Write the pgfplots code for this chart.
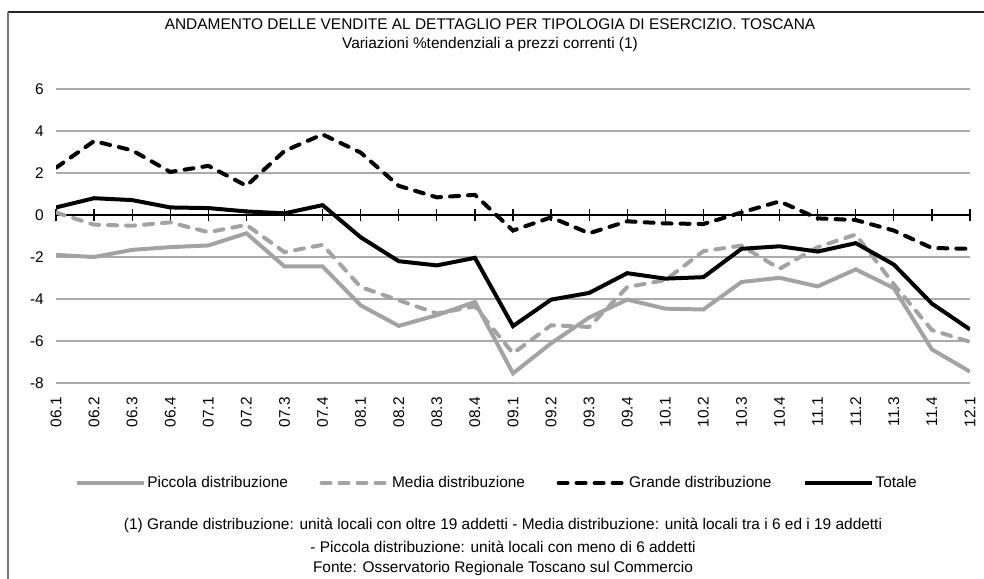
\documentclass[border=0pt]{standalone}
\usepackage{fontspec}
\setmainfont{Liberation Sans}
\usepackage{pgfplots}
\usepackage{pgfplotstable}
\pgfplotsset{compat=1.18}

\definecolor{lgray}{HTML}{A3A3A3}
\definecolor{ggrid}{HTML}{ABABAB}

\pgfplotstableread{
idx piccola media grande totale
0  -1.90  0.12  2.25  0.36
1  -2.00 -0.46  3.52  0.80
2  -1.66 -0.51  3.08  0.71
3  -1.53 -0.35  2.05  0.36
4  -1.45 -0.82  2.34  0.33
5  -0.87 -0.47  1.39  0.17
6  -2.45 -1.77  3.05  0.08
7  -2.45 -1.42  3.84  0.47
8  -4.30 -3.43  2.97 -1.06
9  -5.28 -4.06  1.39 -2.20
10 -4.77 -4.69  0.84 -2.40
11 -4.14 -4.35  0.96 -2.04
12 -7.54 -6.59 -0.74 -5.29
13 -6.11 -5.25 -0.11 -4.03
14 -4.88 -5.33 -0.87 -3.71
15 -4.03 -3.43 -0.30 -2.77
16 -4.46 -3.10 -0.40 -3.03
17 -4.50 -1.72 -0.43 -2.96
18 -3.19 -1.46  0.12 -1.61
19 -2.99 -2.56  0.65 -1.49
20 -3.40 -1.53 -0.16 -1.74
21 -2.59 -0.93 -0.24 -1.34
22 -3.48 -3.30 -0.74 -2.36
23 -6.40 -5.48 -1.57 -4.22
24 -7.46 -6.04 -1.61 -5.45
}\data

\newcommand{\fs}{\fontsize{15.5}{18}\selectfont}

\begin{document}
\begin{tikzpicture}
\useasboundingbox (0bp,0bp) rectangle (984bp,-579bp);
\draw[line width=1.2bp, black!85] (8bp,-12bp) -- (984bp,-12bp);
\draw[line width=1.2bp, black!55] (8bp,-12bp) -- (8bp,-579bp);

\node[font=\fs] at (490bp,-24bp) {ANDAMENTO DELLE VENDITE AL DETTAGLIO PER TIPOLOGIA DI ESERCIZIO. TOSCANA};
\node[font=\fs] at (490bp,-45bp) {Variazioni \%tendenziali a prezzi correnti (1)};

% zero axis with crossing ticks
\begin{axis}[
  at={(56bp,-383bp)}, anchor=south west,
  scale only axis, width=914bp, height=294bp,
  xmin=0, xmax=24, ymin=-8, ymax=6,
  axis x line*=middle, axis y line=none,
  xtick={0,...,24}, xticklabels={},
  ytick=\empty,
  major tick length=12bp, tick align=center,
  tick style={black, line width=1.3bp},
  x axis line style={black, line width=1.6bp},
]
\end{axis}

\begin{axis}[
  at={(56bp,-383bp)}, anchor=south west,
  scale only axis, width=914bp, height=294bp,
  xmin=0, xmax=24, ymin=-8, ymax=6,
  axis line style={draw=none},
  major tick length=0pt,
  xtick={0,...,24},
  xticklabels={06.1,06.2,06.3,06.4,07.1,07.2,07.3,07.4,08.1,08.2,08.3,08.4,09.1,09.2,09.3,09.4,10.1,10.2,10.3,10.4,11.1,11.2,11.3,11.4,12.1},
  ytick={-8,-6,-4,-2,2,4,6},
  extra y ticks={0},
  extra y tick style={ymajorgrids=false},
  ymajorgrids,
  grid style={ggrid, line width=1.5bp},
  /pgf/number format/assume math mode=true,
  tick label style={font=\fs, inner sep=0pt},
  xticklabel style={yshift=-14bp, rotate=90, anchor=east},
  yticklabel style={xshift=-12bp, anchor=east},
  legend style={at={(0.482,-0.34)}, anchor=center, draw=none, fill=none,
    font=\fs, legend columns=4,
    nodes={inner sep=1.5bp},
    /tikz/every even column/.append style={column sep=30bp}},
  legend image code/.code={\draw[#1] (0bp,0bp) -- (67bp,0bp);},
  legend cell align=left,
]
\addplot[lgray, line width=4bp] table[x=idx, y=piccola] {\data};
\addlegendentry{Piccola distribuzione}
\addplot[lgray, line width=4bp, line cap=round, dash pattern=on 9bp off 9bp] table[x=idx, y=media] {\data};
\addlegendentry{Media distribuzione}
\addplot[black, line width=4bp, line cap=round, dash pattern=on 9bp off 9bp] table[x=idx, y=grande] {\data};
\addlegendentry{Grande distribuzione}
\addplot[black, line width=4bp] table[x=idx, y=totale] {\data};
\addlegendentry{Totale}
\end{axis}

\node[font=\fs] at (503bp,-525bp) {(1) Grande distribuzione: unità locali con oltre 19 addetti - Media distribuzione: unità locali tra i 6 ed i 19 addetti};
\node[font=\fs] at (503bp,-547bp) {- Piccola distribuzione: unità locali con meno di 6 addetti};
\node[font=\fs] at (503bp,-568bp) {Fonte: Osservatorio Regionale Toscano sul Commercio};
\end{tikzpicture}
\end{document}
